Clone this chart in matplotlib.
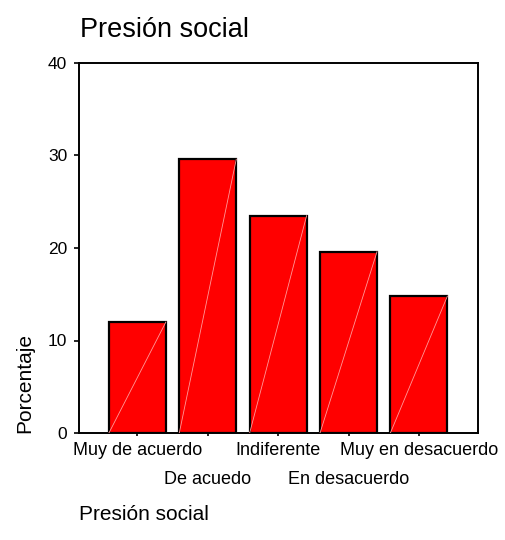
import numpy as np
import matplotlib
matplotlib.use('Agg')
import matplotlib.pyplot as plt

plt.rcParams['font.family'] = ['Liberation Sans', 'DejaVu Sans']

# data
categories = ['Muy de acuerdo', 'De acuedo', 'Indiferente',
              'En desacuerdo', 'Muy en desacuerdo']
porcentaje = [12.0, 29.6, 23.5, 19.6, 14.8]
yticks = [0, 10, 20, 30, 40]

fig = plt.figure(figsize=(5.06, 5.40), dpi=100)
ax = fig.add_axes([79 / 506, 1 - 433 / 540, 399 / 506, 370 / 540])

x = np.arange(len(categories))
w = 0.81
ax.bar(x, porcentaje, width=w, color='#ff0000', edgecolor='black', linewidth=1.6, zorder=2)

# faint diagonal line inside each bar (SPSS rendering artefact)
for xi, v in zip(x, porcentaje):
    ax.plot([xi - w / 2, xi + w / 2], [0, v], color='#ff9999', lw=0.6, zorder=3)

ax.set_xlim(-0.83, 4.84)
ax.set_ylim(0, 40)
ax.set_yticks(yticks)
ax.set_xticks(x)
ax.set_xticklabels(categories)

for sp in ax.spines.values():
    sp.set_linewidth(1.4)

ax.tick_params(axis='y', length=3.5, width=1.2, pad=5, labelsize=12.5)
ax.tick_params(axis='x', length=2.5, width=1.2, pad=4, labelsize=13)
for i, t in enumerate(ax.xaxis.get_major_ticks()):
    if i % 2 == 1:
        t.set_pad(25)

ax.set_ylabel('Porcentaje', fontsize=15, loc='bottom', labelpad=10)
ax.set_xlabel('Presión social', fontsize=15, loc='left', labelpad=12)

fig.text(80 / 506, 1 - 37 / 540, 'Presión social', fontsize=19.5,
         ha='left', va='baseline')

fig.savefig('out.png', dpi=100)
